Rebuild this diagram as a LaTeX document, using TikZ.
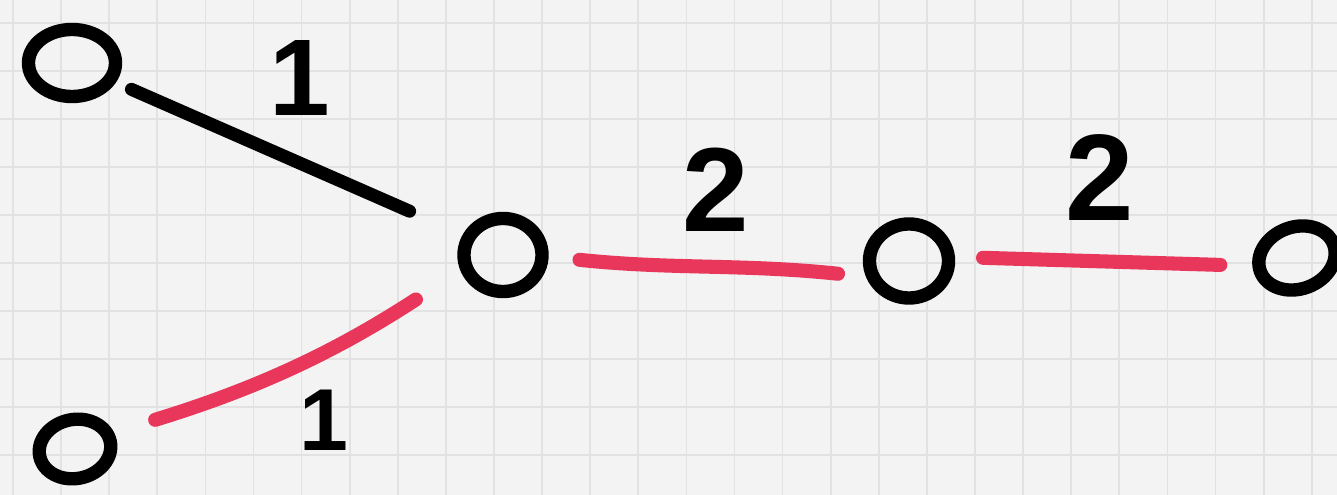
\documentclass[tikz,border=0pt]{standalone}
\usepackage{fontspec}
\setmainfont{Liberation Sans}
\usetikzlibrary{shapes.geometric}
\definecolor{paper}{HTML}{F3F3F3}
\definecolor{gridc}{HTML}{E2E2E2}
\definecolor{marker}{HTML}{E8375B}
\begin{document}
\begin{tikzpicture}[x=0.01cm,y=0.01cm,
  vertex/.style={draw=black, line width=3.8pt, ellipse, inner sep=0pt},
  bedge/.style={draw=black, line width=3.7pt, line cap=round},
  redge/.style={draw=marker, line width=4pt, line cap=round},
  lab/.style={inner sep=0pt, text=black, font=\bfseries\fontsize{#1}{#1}\selectfont},
  gridline/.style={draw=gridc, line width=0.5pt}
]
\useasboundingbox (0,0) rectangle (1337,-495);
\clip (0,0) rectangle (1337,-495);
\fill[paper] (0,0) rectangle (1337,-495);
\foreach \i in {0,...,27} \draw[gridline] ({13+48.1*\i},0) -- ({13+48.1*\i},-495);
\foreach \j in {0,...,10} \draw[gridline] (0,{-23-48*\j}) -- (1337,{-23-48*\j});

\node[vertex, minimum width=0.87cm, minimum height=0.67cm] (A) at (72,-63) {};
\node[vertex, minimum width=0.78cm, minimum height=0.73cm] (B) at (503,-255) {};
\node[vertex, minimum width=0.72cm, minimum height=0.59cm, rotate=12] (C) at (75,-449) {};
\node[vertex, minimum width=0.79cm, minimum height=0.74cm] (D) at (909,-261) {};
\node[vertex, minimum width=0.78cm, minimum height=0.62cm, rotate=20] (E) at (1297,-258) {};

\draw[bedge, shorten <=0.17cm, shorten >=0.58cm] (A.-24) -- (B.153);
\draw[redge, shorten <=0.43cm, shorten >=0.53cm] (C.11) to[bend right=8] (B.200);
\draw[redge, shorten <=0.31cm, shorten >=0.28cm] (B.-2) to[out=-6,in=174] (D.200);
\draw[redge, shorten <=0.28cm, shorten >=0.32cm] (D.5) -- (E.170);

\node[lab=31pt] (w1) at (300,-78) {1};
\node[lab=25pt] (w2) at (324,-420) {1};
\node[lab=34pt] (w3) at (716,-190) {2};
\node[lab=35pt] (w4) at (1100,-178) {2};
\end{tikzpicture}
\end{document}
